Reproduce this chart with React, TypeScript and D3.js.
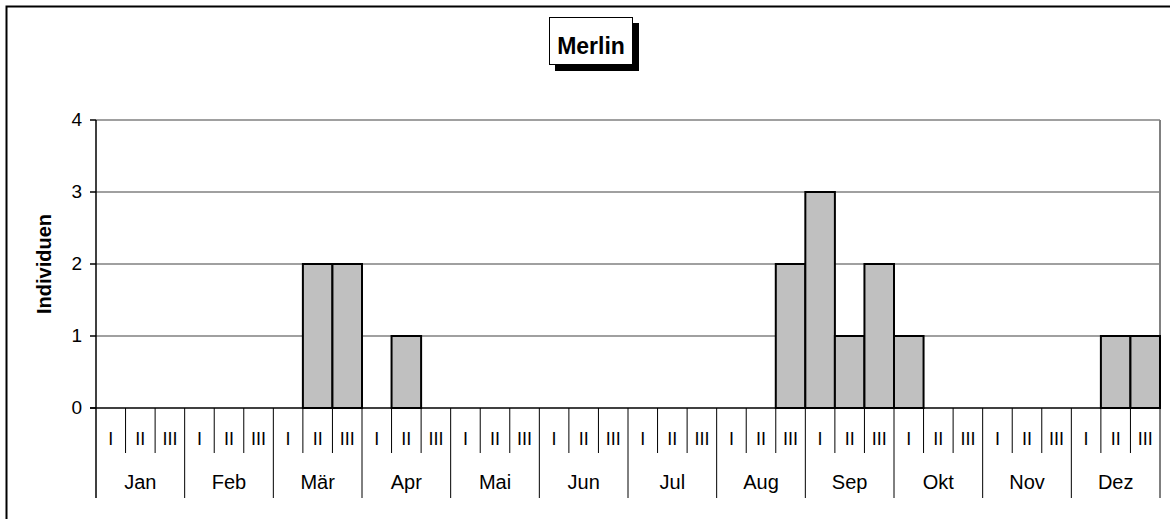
import React from "react";
import * as d3 from "d3";

const months = ["Jan", "Feb", "Mär", "Apr", "Mai", "Jun", "Jul", "Aug", "Sep", "Okt", "Nov", "Dez"];
const decades = ["I", "II", "III"];
const values = [
  0, 0, 0,
  0, 0, 0,
  0, 2, 2,
  0, 1, 0,
  0, 0, 0,
  0, 0, 0,
  0, 0, 0,
  0, 0, 2,
  3, 1, 2,
  1, 0, 0,
  0, 0, 0,
  0, 1, 1,
];
const yTicks = [0, 1, 2, 3, 4];
const title = "Merlin";
const yLabel = "Individuen";

export default function App() {
  const W = 1170, H = 519;
  const left = 96, right = 1160, top = 120, bottom = 408;
  const cats = months.flatMap((m) => decades.map((d) => `${m}-${d}`));
  const x = d3.scaleBand<string>().domain(cats).range([left, right]).padding(0);
  const y = d3.scaleLinear().domain([0, 4]).range([bottom, top]);
  const bw = x.bandwidth();
  const font = "Liberation Sans, Arial, sans-serif";

  return (
    <svg width={W} height={H} style={{ position: "absolute", left: 0, top: 0 }} fontFamily={font}>
      <rect x={0} y={0} width={W} height={H} fill="#fff" />
      <rect x={6.5} y={6.5} width={W + 20} height={H + 20} fill="none" stroke="#000" strokeWidth={2} />
      {/* title */}
      <rect x={555} y={23} width={84} height={48} fill="#000" />
      <rect x={549.5} y={17.5} width={83} height={47} fill="#fff" stroke="#000" strokeWidth={1} />
      <text x={591} y={48} textAnchor="middle" dominantBaseline="middle" fontSize={23} fontWeight="bold">{title}</text>
      {/* gridlines */}
      {yTicks.filter((t) => t > 0).map((t) => (
        <line key={t} x1={left} x2={right} y1={y(t)} y2={y(t)} stroke="#808080" strokeWidth={1.5} />
      ))}
      <line x1={right} x2={right} y1={top} y2={bottom} stroke="#808080" strokeWidth={2} />
      {/* bars */}
      {values.map((v, i) =>
        v > 0 ? (
          <rect key={i} x={x(cats[i])!} y={y(v)} width={bw} height={y(0) - y(v)} fill="#C0C0C0" stroke="#000" strokeWidth={2} />
        ) : null
      )}
      {/* y axis */}
      <line x1={left} x2={left} y1={top} y2={498} stroke="#000" strokeWidth={1.5} />
      {yTicks.map((t) => (
        <g key={t}>
          <line x1={left - 6} x2={left} y1={y(t)} y2={y(t)} stroke="#000" strokeWidth={1.5} />
          <text x={82} y={y(t) + 1} textAnchor="end" dominantBaseline="middle" fontSize={19}>{t}</text>
        </g>
      ))}
      <text transform={`translate(46,${(top + bottom) / 2}) rotate(-90)`} textAnchor="middle" dominantBaseline="middle" fontSize={20} fontWeight="bold">{yLabel}</text>
      {/* x axis */}
      <line x1={left - 6} x2={right} y1={bottom} y2={bottom} stroke="#000" strokeWidth={1.5} />
      {cats.map((c, i) => {
        const x0 = x(c)! + bw;
        const isMonthEnd = i % 3 === 2;
        return (
          <g key={c}>
            <line x1={x0} x2={x0} y1={bottom} y2={isMonthEnd ? 498 : 453} stroke="#000" strokeWidth={1} />
            <text x={x(c)! + bw / 2} y={440} textAnchor="middle" dominantBaseline="middle" fontSize={18}>{decades[i % 3]}</text>
          </g>
        );
      })}
      {months.map((m) => {
        const xs = x(`${m}-I`)!;
        return (
          <text key={m} x={xs + (bw * 3) / 2} y={484} textAnchor="middle" dominantBaseline="middle" fontSize={20}>{m}</text>
        );
      })}
    </svg>
  );
}
